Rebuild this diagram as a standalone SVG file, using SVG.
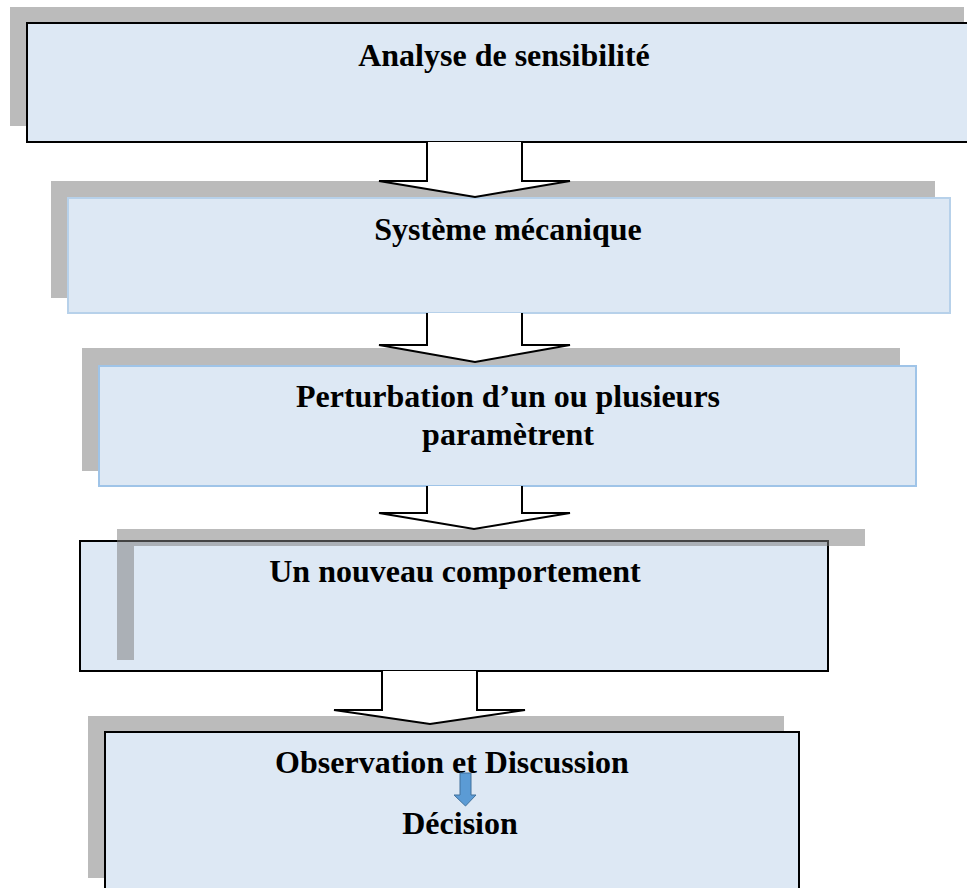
<svg xmlns="http://www.w3.org/2000/svg" width="967" height="888" viewBox="0 0 967 888">
  <style>
    .shadow { fill: #bbbbbb; }
    .box { fill: #dde8f4; }
    .dark { stroke: #000000; stroke-width: 2; }
    .light1 { stroke: #b7d1ea; stroke-width: 2; }
    .light2 { stroke: #9fc4e8; stroke-width: 2; }
    .lbl { font-family: "Liberation Serif", "Times New Roman", serif; font-weight: bold; font-size: 32px; fill: #000000; text-anchor: middle; }
    .blk { fill: #ffffff; stroke: #000000; stroke-width: 2; stroke-linejoin: miter; }
  </style>
  <rect x="0" y="0" width="967" height="888" fill="#ffffff"/>

  <g id="node1">
    <rect class="shadow" x="10" y="7" width="954" height="119"/>
    <rect class="box dark" x="27" y="23" width="950" height="119"/>
    <text class="lbl" x="504" y="66">Analyse de sensibilité</text>
  </g>

  <g id="node2">
    <rect class="shadow" x="51" y="181" width="884" height="117"/>
    <rect class="box light1" x="68" y="198" width="882" height="115"/>
    <text class="lbl" x="508" y="240">Système mécanique</text>
  </g>

  <g id="node3">
    <rect class="shadow" x="82" y="348" width="818" height="123"/>
    <rect class="box light2" x="99" y="366" width="817" height="120"/>
    <text class="lbl" x="508" y="407">Perturbation d’un ou plusieurs</text>
    <text class="lbl" x="508" y="445">paramètrent</text>
  </g>

  <g id="node4">
    <rect class="box dark" x="80" y="541" width="748" height="130"/>
    <path d="M117,529 H865 V546 H134 V660 H117 Z" fill="#7e7e7e" fill-opacity="0.53"/>
    <text class="lbl" x="455" y="582">Un nouveau comportement</text>
  </g>

  <g id="node5">
    <rect class="shadow" x="88" y="716" width="696" height="162"/>
    <rect class="box dark" x="105" y="732" width="694" height="170"/>
    <text class="lbl" x="452" y="773">Observation et Discussion</text>
    <path d="M460,773 H471 V795 H476 L465.5,806 L454,795 H460 Z" fill="#5b9bd5" stroke="#41719c" stroke-width="1"/>
    <text class="lbl" x="460" y="834">Décision</text>
  </g>

  <g id="connectors">
    <path class="blk" d="M427,142 V181 H379 L475,197 L570,181 H522 V142"/>
    <path class="blk" d="M427,313 V345 H379 L475,362 L570,345 H522 V313"/>
    <path class="blk" d="M427,486 V513 H379 L474,529 L570,513 H522 V486"/>
    <path class="blk" d="M382,671 V710 H334 L430,724 L525,710 H477 V671"/>
  </g>
</svg>
